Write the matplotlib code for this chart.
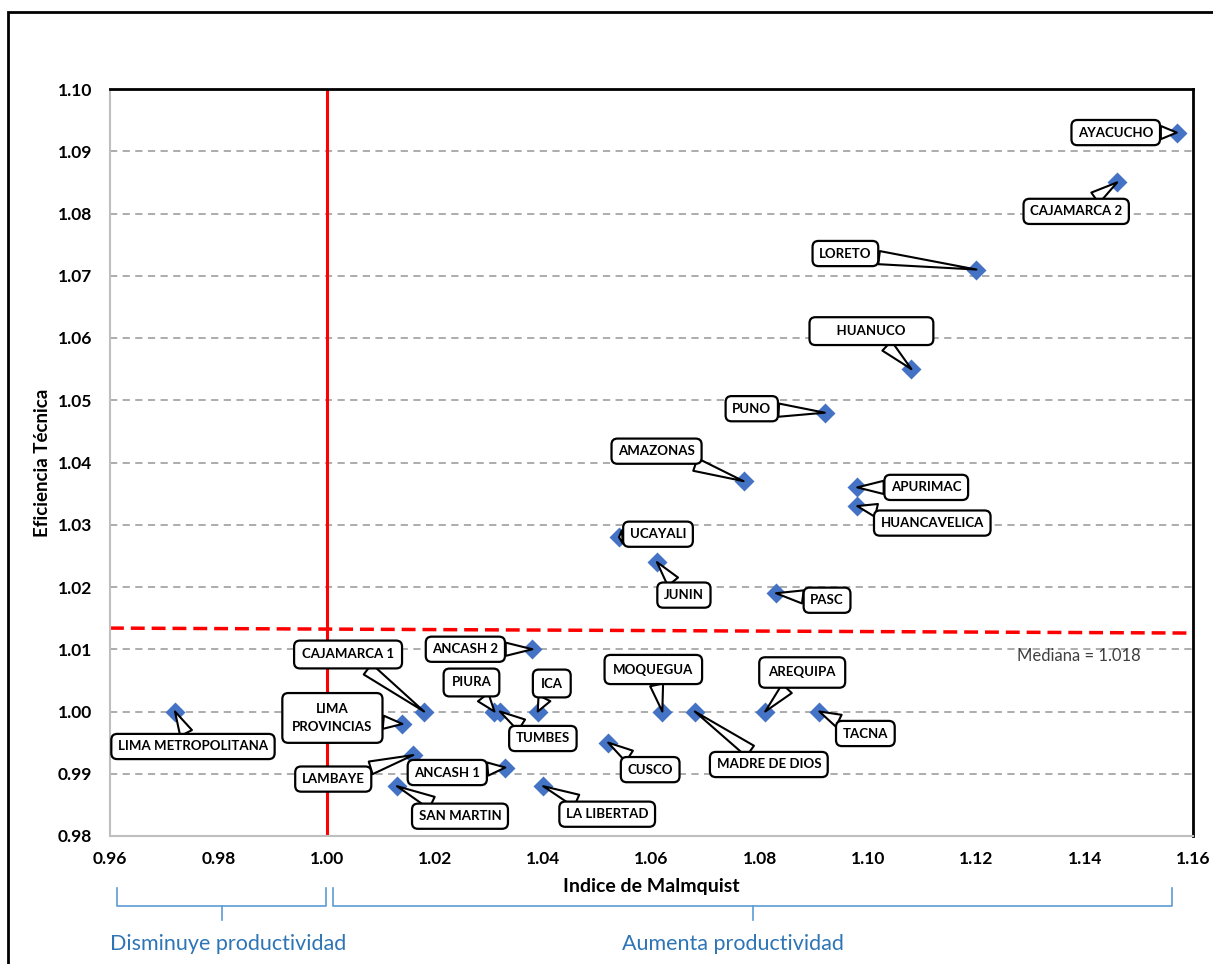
import matplotlib.pyplot as plt
from matplotlib.patches import Rectangle
import matplotlib.transforms as mtransforms

# datos: indice de Malmquist vs eficiencia tecnica por region
regiones = ['LIMA METROPOLITANA', 'LIMA\nPROVINCIAS', 'CAJAMARCA 1', 'LAMBAYE', 'SAN MARTIN',
            'ANCASH 1', 'ANCASH 2', 'PIURA', 'TUMBES', 'ICA', 'LA LIBERTAD', 'CUSCO',
            'MOQUEGUA', 'MADRE DE DIOS', 'AREQUIPA', 'TACNA', 'UCAYALI', 'JUNIN', 'PASC',
            'AMAZONAS', 'APURIMAC', 'HUANCAVELICA', 'PUNO', 'HUANUCO', 'LORETO',
            'CAJAMARCA 2', 'AYACUCHO']
malmquist = [0.972, 1.014, 1.018, 1.016, 1.013, 1.033, 1.038, 1.031, 1.032, 1.039, 1.040, 1.052,
             1.062, 1.068, 1.081, 1.091, 1.054, 1.061, 1.083, 1.077, 1.098, 1.098, 1.092, 1.108,
             1.120, 1.146, 1.157]
eficiencia = [1.000, 0.998, 1.000, 0.993, 0.988, 0.991, 1.010, 1.000, 1.000, 1.000, 0.988, 0.995,
              1.000, 1.000, 1.000, 1.000, 1.028, 1.024, 1.019, 1.037, 1.036, 1.033, 1.048, 1.055,
              1.071, 1.085, 1.093]

mediana_x = [0.96, 1.16]
mediana_y = [1.0134, 1.0126]

xticks = [0.96, 0.98, 1.00, 1.02, 1.04, 1.06, 1.08, 1.10, 1.12, 1.14, 1.16]
yticks = [0.98, 0.99, 1.00, 1.01, 1.02, 1.03, 1.04, 1.05, 1.06, 1.07, 1.08, 1.09, 1.10]

# desplazamiento de cada etiqueta (pixeles) respecto al punto
offsets = [(18, -35), (-70, 6), (-76, 57), (-80, -24), (63, -30),
           (-58, -5), (-67, 0), (-23, 29), (43, -27), (14, 28), (64, -28), (42, -27),
           (-9, 42), (74, -53), (37, 39), (46, -22), (39, 3), (27, -33), (51, -7),
           (-87, 30), (69, 0), (75, -17), (-73, 4), (-40, 38), (-131, 16),
           (-41, -29), (-61, 0)]
pads = {'LIMA\nPROVINCIAS': 0.75, 'HUANUCO': 0.6, 'AREQUIPA': 0.7, 'MOQUEGUA': 0.65,
        'ICA': 0.6, 'PIURA': 0.6, 'CAJAMARCA 1': 0.6}

plt.rcParams['font.family'] = ['Lato', 'DejaVu Sans']

fig = plt.figure(figsize=(12.13, 9.64), dpi=100)
ax = fig.add_axes([110 / 1213, 1 - 836 / 964, 1083 / 1213, 747 / 964])

ax.set_xlim(0.96, 1.16)
ax.set_ylim(0.98, 1.10)
ax.set_xticks(xticks)
ax.set_yticks(yticks)
ax.set_xticklabels(['%.2f' % v for v in xticks], fontsize=12.5, fontweight='bold')
ax.set_yticklabels(['%.2f' % v for v in yticks], fontsize=12.5, fontweight='bold')
ax.tick_params(length=0)
ax.tick_params(axis='y', pad=13)
ax.tick_params(axis='x', pad=11)

for v in yticks[1:-1]:
    ax.axhline(v, color='#A6A6A6', lw=1.3, ls=(0, (4, 3)), zorder=0)

for s in ['top', 'right']:
    ax.spines[s].set_color('black')
    ax.spines[s].set_linewidth(2)
for s in ['left', 'bottom']:
    ax.spines[s].set_color('#BFBFBF')
    ax.spines[s].set_linewidth(1.5)

ax.axvline(1.00, color='#FF0000', lw=2.2, zorder=1)
ax.plot(mediana_x, mediana_y, color='#FF0000', lw=2.5, ls=(0, (4, 2)), zorder=1)
ax.text(1.139, 1.0089, 'Mediana = 1.018', fontsize=12, color='#404040', ha='center', va='center')

ax.plot(malmquist, eficiencia, 'D', color='#4472C4', ms=10.5, mec='none', zorder=3, clip_on=False)

for nombre, x, y, off in zip(regiones, malmquist, eficiencia, offsets):
    texto = nombre
    if nombre == 'HUANUCO':
        texto = '      HUANUCO      '
    ax.annotate(texto, (x, y), xytext=off, textcoords='offset pixels',
                ha='center', va='center', fontsize=9.5, fontweight='bold', zorder=4,
                linespacing=1.6,
                bbox=dict(boxstyle='round,pad=%s,rounding_size=0.45' % pads.get(nombre, 0.5),
                          fc='white', ec='black', lw=1.6),
                arrowprops=dict(arrowstyle='wedge,tail_width=1.0,shrink_factor=0.5',
                                fc='white', ec='black', lw=1.5, shrinkA=0, shrinkB=0))

ax.set_xlabel('Indice de Malmquist', fontsize=14, fontweight='bold', labelpad=8)
ax.set_ylabel('Eficiencia Técnica', fontsize=13.5, fontweight='bold', labelpad=5)

# llaves debajo del eje x
trans = mtransforms.blended_transform_factory(ax.transData, ax.transAxes)
azul_llave = '#5B9BD5'
for x0, x1, xc in [(0.9613, 0.9998, 0.9807), (1.0012, 1.1561, 1.0787)]:
    ax.plot([x0, x0, x1, x1], [-0.070, -0.094, -0.094, -0.070], color=azul_llave, lw=1.2,
            transform=trans, clip_on=False)
    ax.plot([xc, xc], [-0.094, -0.113], color=azul_llave, lw=1.2, transform=trans, clip_on=False)
ax.text(0.9818, -0.145, 'Disminuye productividad', transform=trans, ha='center', va='center',
        fontsize=15.5, color='#2E75B6')
ax.text(1.075, -0.145, 'Aumenta productividad', transform=trans, ha='center', va='center',
        fontsize=15.5, color='#2E75B6')

# marco exterior
fig.add_artist(Rectangle((8 / 1213, -0.1), 1.2, 1.1 - 12 / 964, transform=fig.transFigure,
                         fill=False, ec='black', lw=2))

fig.savefig('out.png', dpi=100)
